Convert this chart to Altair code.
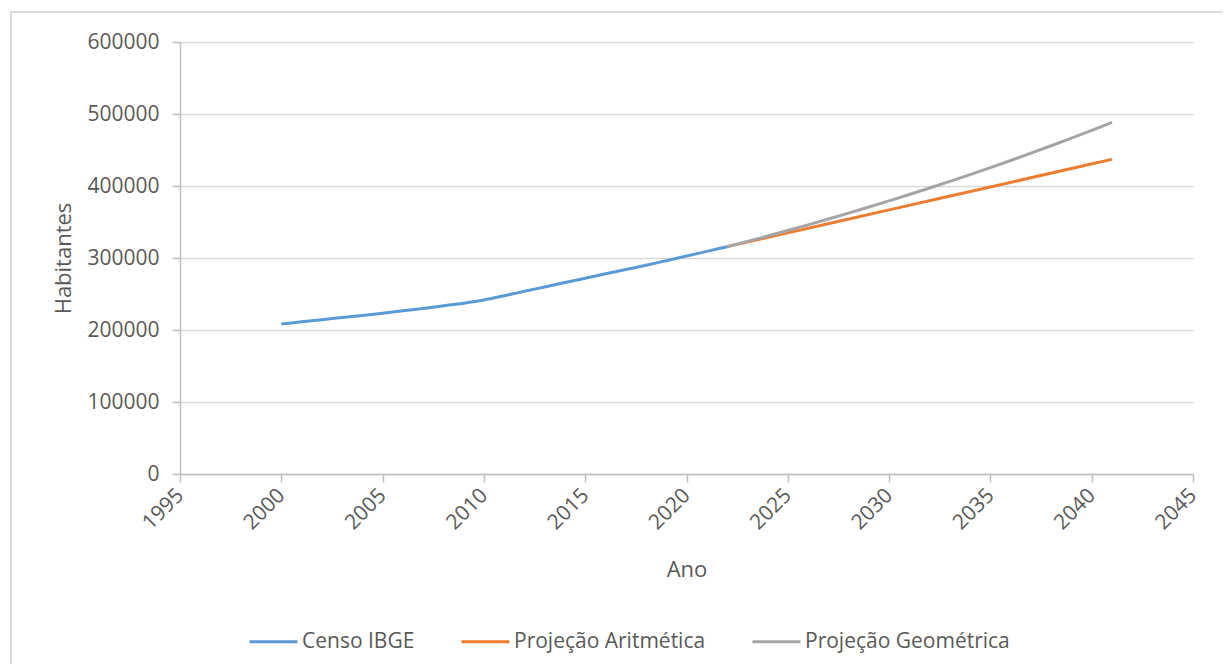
import altair as alt
import pandas as pd

# Censo IBGE (observed / estimated population)
censo_anos = [2000, 2001, 2002, 2003, 2004, 2005, 2006, 2007, 2008, 2009, 2010,
              2011, 2012, 2013, 2014, 2015, 2016, 2017, 2018, 2019, 2020, 2021, 2022]
censo_hab = [208300, 211300, 214300, 217300, 220300, 223400, 226600, 230000, 233600,
             237300, 241800, 247600, 253700, 259800, 265900, 272000, 278000, 284000,
             290000, 296300, 302700, 309200, 315700]

# Projeção Aritmética
arit_anos = [2022, 2025, 2030, 2035, 2041]
arit_hab = [315700, 334850, 366800, 398700, 437000]

# Projeção Geométrica
geo_anos = [2022, 2023, 2024, 2025, 2026, 2027, 2028, 2029, 2030, 2031, 2032,
            2033, 2034, 2035, 2036, 2037, 2038, 2039, 2040, 2041]
geo_hab = [315700, 323030, 330540, 338220, 346080, 354120, 362350, 370770, 379380,
           388200, 397220, 406450, 415890, 425560, 435450, 445570, 455920, 466510,
           477350, 488440]

series = ["Censo IBGE", "Projeção Aritmética", "Projeção Geométrica"]
colors = ["#5b9bd5", "#ed7d31", "#a5a5a5"]
x_ticks = [1995, 2000, 2005, 2010, 2015, 2020, 2025, 2030, 2035, 2040, 2045]
y_ticks = [0, 100000, 200000, 300000, 400000, 500000, 600000]

rows = []
for s, anos, hab in [(series[0], censo_anos, censo_hab),
                     (series[1], arit_anos, arit_hab),
                     (series[2], geo_anos, geo_hab)]:
    for a, h in zip(anos, hab):
        rows.append({"Ano": a, "Habitantes": h, "Serie": s})
df = pd.DataFrame(rows)

FONT = "Open Sans"
TXT = "#595959"

lines = alt.Chart(df).mark_line(strokeWidth=3, interpolate="monotone").encode(
    x=alt.X("Ano:Q",
            scale=alt.Scale(domain=[1995, 2045], nice=False, zero=False),
            axis=alt.Axis(values=x_ticks, format="d", labelAngle=-45,
                          labelAlign="right", labelBaseline="middle",
                          labelPadding=10, tickSize=8, grid=False,
                          labelFontSize=21,
                          title="Ano", titlePadding=26, titleFontSize=22)),
    y=alt.Y("Habitantes:Q",
            scale=alt.Scale(domain=[0, 600000], nice=False),
            axis=alt.Axis(values=y_ticks, format="d", tickSize=8,
                          labelPadding=13, labelFontSize=21,
                          title="Habitantes", titlePadding=11, titleFontSize=22)),
    color=alt.Color("Serie:N",
                    scale=alt.Scale(domain=series, range=colors),
                    legend=alt.Legend(title=None, orient="none", direction="horizontal",
                                      legendX=68, legendY=574,
                                      symbolType="stroke", symbolSize=2300,
                                      symbolStrokeWidth=3, columnPadding=40,
                                      labelOffset=3)),
    order=alt.Order("Ano:Q"),
)

border = alt.Chart(pd.DataFrame({"k": [0]})).mark_rect(
    fill=None, stroke="#d9d9d9", strokeWidth=2
).encode(
    x=alt.value(-169), x2=alt.value(1100),
    y=alt.value(-30), y2=alt.value(700),
)

chart = alt.layer(border, lines).properties(
    width=1013, height=432,
    autosize=alt.AutoSizeParams(type="none"),
    padding={"left": 172, "top": 34, "right": 29, "bottom": 190},
).configure_view(stroke=None).configure_axis(
    labelFont=FONT, titleFont=FONT,
    labelColor=TXT, titleColor=TXT, titleFontWeight="normal",
    domainColor="#bfbfbf", tickColor="#bfbfbf", gridColor="#d9d9d9",
    domainWidth=1.5, tickWidth=1.5, gridWidth=1.5,
).configure_legend(
    labelFont=FONT, labelFontSize=21, labelColor=TXT, labelLimit=400,
)

chart.save("out.html", embed_options={"renderer": "svg", "actions": False})
